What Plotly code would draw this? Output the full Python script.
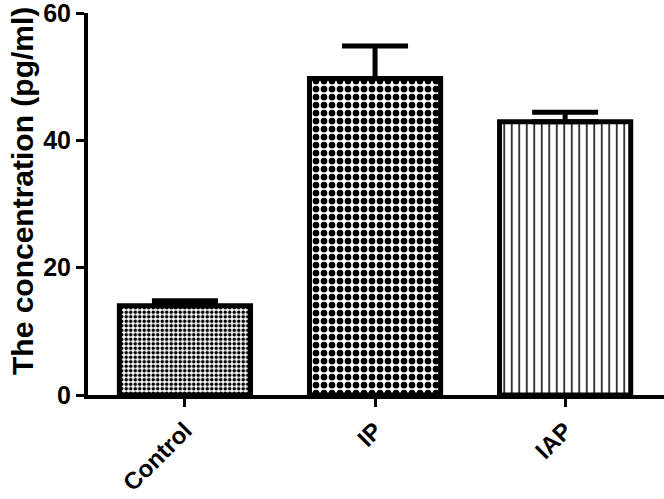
import plotly.graph_objects as go

groups = ["Control", "IP", "IAP"]
means = [14.0, 49.7, 42.9]
sem = [0.8, 5.1, 1.5]
y_ticks = [0, 20, 40, 60]
y_title = "The concentration (pg/ml)"

font_family = "Arial, Liberation Sans, sans-serif"

# one trace per bar so each gets its own fill pattern
patterns = [
    dict(shape=".", size=4.5, solidity=0.5),
    dict(shape=".", size=8, solidity=0.55),
    dict(shape="|", size=7.5, solidity=0.2),
]

fig = go.Figure()
for i, g in enumerate(groups):
    p = patterns[i]
    fig.add_trace(go.Bar(
        x=[i], y=[means[i]],
        width=0.69,
        marker=dict(
            color="white",
            line=dict(color="black", width=5),
            pattern=dict(shape=p["shape"], size=p["size"], solidity=p["solidity"],
                         fgcolor="black", bgcolor="white", fillmode="replace"),
        ),
        error_y=dict(type="data", array=[sem[i]], arrayminus=[0], symmetric=False,
                     color="black", thickness=5, width=33),
        showlegend=False,
    ))

fig.update_layout(
    width=664, height=499,
    margin=dict(l=88, r=0, t=13, b=104),
    plot_bgcolor="white", paper_bgcolor="white",
    font=dict(family=font_family, color="black", size=24, weight="bold"),
    xaxis=dict(
        range=[-0.51, 2.52],
        tickmode="array", tickvals=[0, 1, 2], ticktext=groups,
        tickangle=-45, ticklabeloverflow="allow",
        showline=True, linecolor="black", linewidth=4,
        ticks="outside", ticklen=8, tickwidth=3, tickcolor="black",
        showgrid=False, zeroline=False, automargin=False,
        tickfont=dict(family=font_family, size=24, weight="bold"),
    ),
    yaxis=dict(
        range=[0, 60],
        tickvals=y_ticks, ticklabeloverflow="allow",
        showline=True, linecolor="black", linewidth=4,
        ticks="outside", ticklen=8, tickwidth=3, tickcolor="black",
        showgrid=False, zeroline=False, automargin=False,
        tickfont=dict(family=font_family, size=25, weight="bold"),
    ),
    annotations=[dict(
        text=y_title, textangle=-90,
        xref="paper", yref="paper", x=0, y=0.534,
        xanchor="center", yanchor="middle", xshift=-66, showarrow=False,
        font=dict(family=font_family, size=30, weight="bold"),
    )],
)

# drop the default page margin so the figure sits at the window's corner
fig.write_html("out.html", config={"displayModeBar": False},
               post_script="document.body.style.margin='0';")
